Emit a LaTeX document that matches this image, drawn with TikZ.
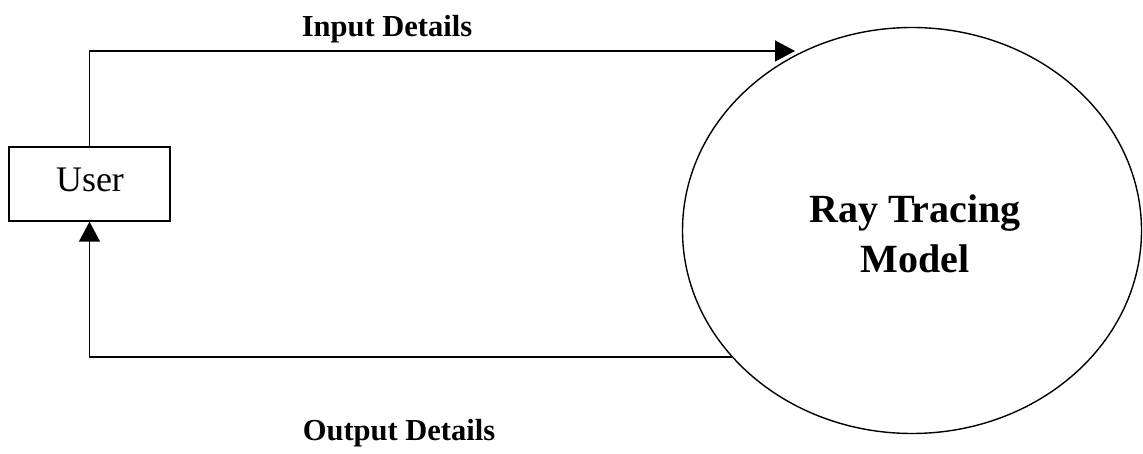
\documentclass[tikz,border=0pt]{standalone}
\usepackage{fontspec}
\setmainfont{Liberation Serif}
\usetikzlibrary{arrows.meta,shapes.geometric}
\begin{document}
\begin{tikzpicture}[x=1pt,y=-1pt,
  line/.style={line width=1.4pt},
  arr/.style={line, -{Triangle[length=20pt,width=21pt]}},
  lbl/.style={font=\fontsize{30.5}{36}\selectfont\bfseries, anchor=base, inner sep=0},
  userbox/.style={draw, line width=1.4pt, minimum width=161pt, minimum height=74pt, inner sep=0},
  modelshape/.style={draw, ellipse, line width=1.4pt, minimum width=459pt, minimum height=406pt, inner sep=0}]
\useasboundingbox (0,0) rectangle (1143,454);
\node[userbox] (user) at (89.5,184) {};
\node[anchor=base, inner sep=0, font=\fontsize{36}{43}\selectfont] (usertxt) at (90,192) {User};
\node[modelshape] (model) at (912,230.5) {};
\node[anchor=base, inner sep=0, font=\fontsize{40}{50}\selectfont\bfseries] (m1) at (915,223) {Ray Tracing};
\node[anchor=base, inner sep=0, font=\fontsize{40}{50}\selectfont\bfseries] (m2) at (915,273) {Model};
\coordinate (inTip) at (795,51);
\coordinate (outStart) at (732,357);
\draw[arr] (user.north) |- (inTip);
\draw[arr] (outStart) -| (user.south);
\node[lbl] (inl) at (387,37) {Input Details};
\node[lbl] (outl) at (399,440) {Output Details};
\end{tikzpicture}
\end{document}
